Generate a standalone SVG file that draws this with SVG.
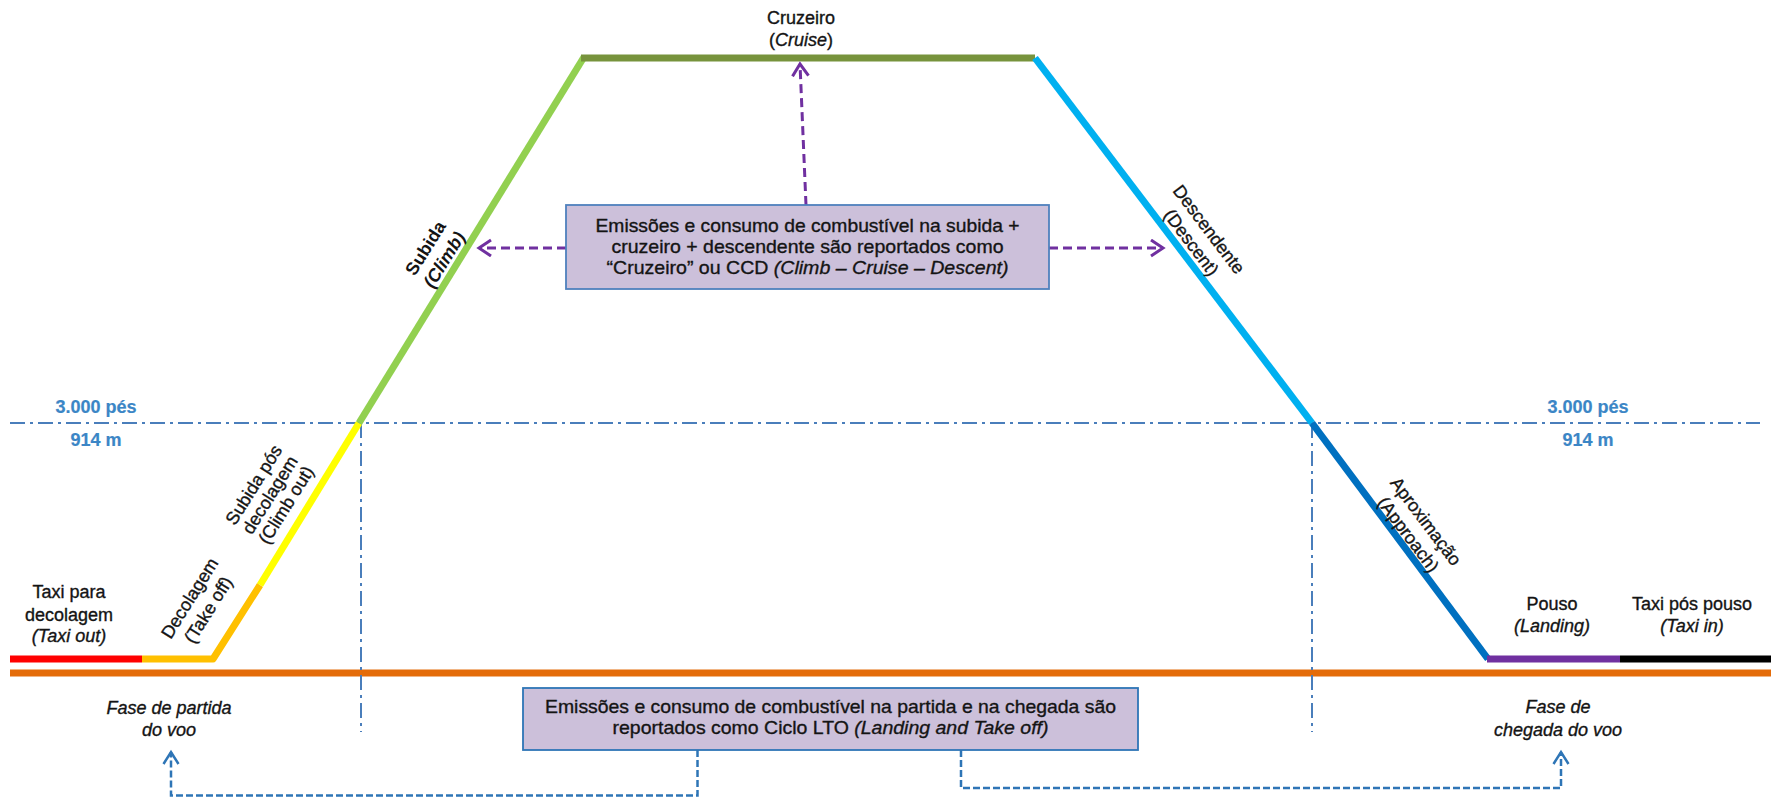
<svg xmlns="http://www.w3.org/2000/svg" width="1771" height="799" viewBox="0 0 1771 799">
  <style>
    text { font-family: "Liberation Sans", Arial, sans-serif; font-size: 18px; fill: #141414; stroke: #141414; stroke-width: 0.35px; }
    .c { text-anchor: middle; }
    .i { font-style: italic; }
    .b { font-weight: bold; stroke-width: 0; }
    .alt { font-weight: bold; fill: #3B86C6; stroke: #3B86C6; stroke-width: 0.2px; }
    .box { font-size: 19px; }
    .seg { fill: none; stroke-width: 7; stroke-linecap: butt; stroke-linejoin: round; }
    .ref { fill: none; stroke: #4A7EBB; stroke-width: 2; stroke-dasharray: 15 5 3 5; }
    .ccd { fill: none; stroke: #7030A0; stroke-width: 3; stroke-dasharray: 9 5; }
    .lto { fill: none; stroke: #2E75B6; stroke-width: 2.5; stroke-dasharray: 7 3; }
    .note { fill: #CCC0DA; stroke-width: 1.8; }
  </style>
  <defs>
    <marker id="headPurple" markerUnits="userSpaceOnUse" orient="auto" markerWidth="16" markerHeight="20" refX="13" refY="9">
      <path d="M1,1 L13,9 L1,17" fill="none" stroke="#7030A0" stroke-width="3"/>
    </marker>
    <marker id="headBlue" markerUnits="userSpaceOnUse" orient="auto" markerWidth="16" markerHeight="20" refX="13" refY="9">
      <path d="M1,1.5 L13,9 L1,16.5" fill="none" stroke="#2E75B6" stroke-width="2.5"/>
    </marker>
  </defs>

  <!-- ground reference line -->
  <g id="ground">
    <path class="seg" d="M10,673 H1771" stroke="#E46C0A" stroke-width="8"/>
  </g>

  <!-- 3000 ft reference lines -->
  <g id="reference-lines">
    <path class="ref" d="M10,423 H1760"/>
    <path class="ref" d="M361,423 V732"/>
    <path class="ref" d="M1312,423 V732"/>
  </g>

  <!-- flight profile segments -->
  <g id="profile">
    <path id="taxi-out" class="seg" d="M10,659 H142" stroke="#FF0000"/>
    <path id="take-off" class="seg" d="M142,659 H213 L260,585" stroke="#FFC000"/>
    <path id="climb-out" class="seg" d="M260,585 L359,423" stroke="#FFFF00"/>
    <path id="climb" class="seg" d="M359,423 L584,57" stroke="#92D050"/>
    <path id="cruise" class="seg" d="M581,58 H1035" stroke="#77933C"/>
    <path id="descent" class="seg" d="M1035,58 L1312,423" stroke="#00B0F0"/>
    <path id="approach" class="seg" d="M1312,423 L1488,659" stroke="#0070C0"/>
    <path id="landing" class="seg" d="M1487,659 H1620" stroke="#7030A0"/>
    <path id="taxi-in" class="seg" d="M1620,659 H1771" stroke="#000000"/>
  </g>

  <!-- connectors -->
  <g id="connectors">
    <path class="ccd" d="M806,205 L800,64" marker-end="url(#headPurple)"/>
    <path class="ccd" d="M566,248 H479" marker-end="url(#headPurple)"/>
    <path class="ccd" d="M1049,248 H1163" marker-end="url(#headPurple)"/>
    <path class="lto" d="M697.5,750 V795.5 H171 V752" marker-end="url(#headBlue)"/>
    <path class="lto" d="M961,750 V788 H1561 V752" marker-end="url(#headBlue)"/>
  </g>

  <!-- altitude labels -->
  <g id="altitude-left">
    <text class="alt c" x="96" y="413">3.000 pés</text>
    <text class="alt c" x="96" y="446">914 m</text>
  </g>
  <g id="altitude-right">
    <text class="alt c" x="1588" y="413">3.000 pés</text>
    <text class="alt c" x="1588" y="446">914 m</text>
  </g>

  <!-- phase labels -->
  <g id="label-cruise">
    <text class="c" x="801" y="24">Cruzeiro</text>
    <text class="c" x="801" y="46">(<tspan class="i">Cruise</tspan>)</text>
  </g>
  <g id="label-taxi-out">
    <text class="c" x="69" y="598">Taxi para</text>
    <text class="c" x="69" y="621">decolagem</text>
    <text class="c i" x="69" y="642">(Taxi out)</text>
  </g>
  <g id="label-take-off" transform="translate(199,604) rotate(-58)">
    <text class="c" x="0" y="-5">Decolagem</text>
    <text class="c" x="0" y="17">(Take off)</text>
  </g>
  <g id="label-climb-out" transform="translate(270,495) rotate(-58)">
    <text class="c" x="0" y="-13">Subida pós</text>
    <text class="c" x="0" y="6">decolagem</text>
    <text class="c" x="0" y="25">(Climb out)</text>
  </g>
  <g id="label-climb" transform="translate(435,254) rotate(-58)">
    <text class="c b" x="0" y="-5">Subida</text>
    <text class="c b i" x="0" y="17">(Climb)</text>
  </g>
  <g id="label-descent" transform="translate(1200,236) rotate(53)">
    <text class="c" x="0" y="-5">Descendente</text>
    <text class="c" x="0" y="17">(Descent)</text>
  </g>
  <g id="label-approach" transform="translate(1417,528) rotate(53)">
    <text class="c" x="0" y="-5">Aproximação</text>
    <text class="c" x="0" y="17">(Approach)</text>
  </g>
  <g id="label-landing">
    <text class="c" x="1552" y="610">Pouso</text>
    <text class="c i" x="1552" y="632">(Landing)</text>
  </g>
  <g id="label-taxi-in">
    <text class="c" x="1692" y="610">Taxi pós pouso</text>
    <text class="c i" x="1692" y="632">(Taxi in)</text>
  </g>
  <g id="label-departure">
    <text class="c i" x="169" y="714">Fase de partida</text>
    <text class="c i" x="169" y="736">do voo</text>
  </g>
  <g id="label-arrival">
    <text class="c i" x="1558" y="713">Fase de</text>
    <text class="c i" x="1558" y="736">chegada do voo</text>
  </g>

  <!-- note boxes -->
  <g id="note-ccd">
    <rect class="note" x="566" y="205" width="483" height="84" stroke="#4F81BD"/>
    <text class="c box" x="807.5" y="232" textLength="424" lengthAdjust="spacingAndGlyphs">Emissões e consumo de combustível na subida +</text>
    <text class="c box" x="807.5" y="253" textLength="392" lengthAdjust="spacingAndGlyphs">cruzeiro + descendente são reportados como</text>
    <text class="c box" x="807.5" y="274" textLength="402" lengthAdjust="spacingAndGlyphs">“Cruzeiro” ou CCD <tspan class="i">(Climb – Cruise – Descent)</tspan></text>
  </g>
  <g id="note-lto">
    <rect class="note" x="523" y="688" width="615" height="62" stroke="#2E75B6"/>
    <text class="c box" x="830.5" y="713" textLength="571" lengthAdjust="spacingAndGlyphs">Emissões e consumo de combustível na partida e na chegada são</text>
    <text class="c box" x="830.5" y="734" textLength="436" lengthAdjust="spacingAndGlyphs">reportados como Ciclo LTO <tspan class="i">(Landing and Take off)</tspan></text>
  </g>
</svg>
